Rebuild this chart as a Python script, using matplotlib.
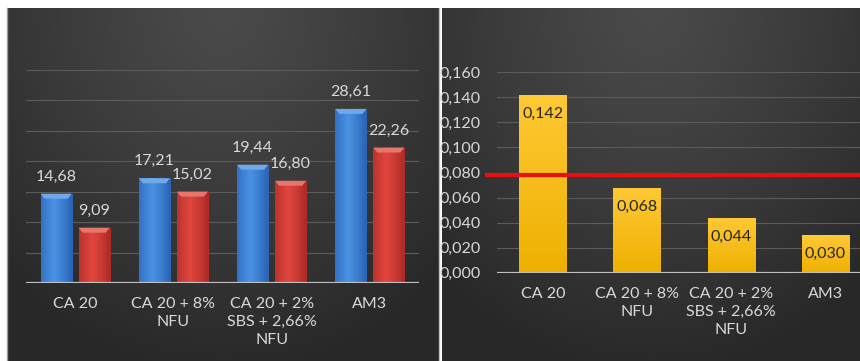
import numpy as np
import matplotlib
matplotlib.use("Agg")
import matplotlib.pyplot as plt
from matplotlib.colors import to_rgb
from matplotlib.patches import Polygon

plt.rcParams['font.family'] = ['Lato', 'DejaVu Sans']

# ---- data ----
categories = ["CA 20", "CA 20 + 8%\nNFU", "CA 20 + 2%\nSBS + 2,66%\nNFU", "AM3"]
series_blue = [14.68, 17.21, 19.44, 28.61]
series_red = [9.09, 15.02, 16.80, 22.26]
ratio = [0.142, 0.068, 0.044, 0.030]
limit_value = 0.078
left_grid = [0, 5, 10, 15, 20, 25, 30, 35]
right_ticks = [0.000, 0.020, 0.040, 0.060, 0.080, 0.100, 0.120, 0.140, 0.160]

W, H = 860, 361
fig = plt.figure(figsize=(W / 100, H / 100), dpi=100)
fig.patch.set_facecolor('white')


def rect(x0, y0, x1, y1):
    """Pixel box (top-left origin) -> figure fraction rect."""
    return [x0 / W, 1 - y1 / H, (x1 - x0) / W, (y1 - y0) / H]


def panel(box):
    ax = fig.add_axes(rect(*box))
    ax.set_axis_off()
    yy, xx = np.mgrid[0:1:240j, 0:1:240j]
    d = np.sqrt(((xx - 0.5) / 0.75) ** 2 + (yy / 1.05) ** 2)
    d = np.clip(d, 0, 1) ** 1.2
    c0 = np.array(to_rgb('#4a4a4a'))
    c1 = np.array(to_rgb('#282828'))
    img = c0 + (c1 - c0) * d[..., None]
    ax.imshow(img, extent=[0, 1, 0, 1], aspect='auto', origin='upper')
    ax.set_xlim(0, 1)
    ax.set_ylim(0, 1)
    return ax


panel((7, 8, 439, H))
panel((442, 8, W, H))
# thin frame lines at panel edges
fig.add_artist(plt.Line2D([6.5 / W, 6.5 / W], [0, 1 - 8 / H], color='#9a9a9a', lw=1))
fig.add_artist(plt.Line2D([439.5 / W, 439.5 / W], [0, 1 - 8 / H], color='#bdbdbd', lw=1))


def shade_bar(ax, patch, edge, mid, cap, cap_dx, cap_dy):
    x0, w, h = patch.get_x(), patch.get_width(), patch.get_height()
    t = np.linspace(0, 1, 64)
    prof = np.clip(1 - np.abs(t - 0.42) / 0.5, 0, 1) ** 0.8
    e, m = np.array(to_rgb(edge)), np.array(to_rgb(mid))
    row = e + (m - e) * prof[:, None]
    img = row[None, :, :]
    im = ax.imshow(img, extent=[x0, x0 + w, 0, h], aspect='auto',
                   origin='upper', zorder=3, interpolation='bilinear')
    im.set_clip_path(patch)
    top = Polygon([(x0, h), (x0 + w, h), (x0 + w - cap_dx, h - cap_dy),
                   (x0 + cap_dx, h - cap_dy)], closed=True,
                  facecolor=cap, edgecolor='none', zorder=4)
    ax.add_patch(top)


def vshade_bar(ax, patch, top_c, bot_c):
    x0, w, h = patch.get_x(), patch.get_width(), patch.get_height()
    t = np.linspace(0, 1, 64)
    a, b = np.array(to_rgb(top_c)), np.array(to_rgb(bot_c))
    col = a + (b - a) * t[:, None]
    img = col[:, None, :]
    im = ax.imshow(img, extent=[x0, x0 + w, 0, h], aspect='auto',
                   origin='upper', zorder=3, interpolation='bilinear')
    im.set_clip_path(patch)


def style_axes(ax):
    ax.set_facecolor('none')
    for s in ax.spines.values():
        s.set_visible(False)
    ax.tick_params(axis='both', length=0)
    ax.grid(axis='y', color='#5c5c5c', lw=0.8, zorder=0)
    ax.set_axisbelow(True)


# ---- left chart: paired bars ----
axl = fig.add_axes(rect(26, 70, 419, 283))
style_axes(axl)
x = np.arange(len(categories))
off, bw = 0.193, 0.316
bars_b = axl.bar(x - off, series_blue, bw, color='none', zorder=2)
bars_r = axl.bar(x + off, series_red, bw, color='none', zorder=2)
px_y = 35 / 213.0  # data units per pixel (vertical)
for p in bars_b:
    shade_bar(axl, p, '#2c66b8', '#4a92e3', '#6fa9e8', 4 / 98.25, 5 * px_y)
for p in bars_r:
    shade_bar(axl, p, '#b02c27', '#e0463e', '#e8766c', 4 / 98.25, 5 * px_y)
for xi, v in zip(x - off, series_blue):
    axl.text(xi, v + 17 * px_y, f"{v:.2f}".replace('.', ','), ha='center',
             va='center', color='#d9d9d9', fontsize=11.5, zorder=5)
for xi, v in zip(x + off, series_red):
    axl.text(xi, v + 17 * px_y, f"{v:.2f}".replace('.', ','), ha='center',
             va='center', color='#d9d9d9', fontsize=11.5, zorder=5)
axl.axhline(0, color='#c0c0c0', lw=1.6, zorder=6)
axl.set_xlim(-0.5, 3.5)
axl.set_ylim(0, 35)
axl.set_yticks(left_grid)
axl.set_yticklabels([])
axl.set_xticks(x)
axl.set_xticklabels(categories, color='#d9d9d9', fontsize=11.5, linespacing=1.38)
axl.tick_params(axis='x', pad=10)

# ---- right chart: single series with limit line ----
axr = fig.add_axes(rect(497, 72.3, W, 272.7))
style_axes(axr)
bars_y = axr.bar(x, ratio, 0.5, color='none', zorder=2)
for p in bars_y:
    vshade_bar(axr, p, '#ffc935', '#eeb000')
for xi, v in zip(x, ratio):
    axr.text(xi, v - 19 * (0.16 / 200.4), f"{v:.3f}".replace('.', ','),
             ha='center', va='center', color='#262626', fontsize=11.5, zorder=5)
axr.axhline(0, color='#c0c0c0', lw=1.6, zorder=6)
axr.axhline(limit_value, xmin=-10 / 363, xmax=1, color='#e8100c', lw=3,
            zorder=7, clip_on=False)
axr.set_xlim(-0.489, 3.372)
axr.set_ylim(0, 0.16)
axr.set_yticks(right_ticks)
axr.set_yticklabels([f"{t:.3f}".replace('.', ',') for t in right_ticks],
                    color='#d9d9d9', fontsize=11.5)
axr.tick_params(axis='y', pad=12)
axr.set_xticks(x)
axr.set_xticklabels(categories, color='#d9d9d9', fontsize=11.5, linespacing=1.38)
axr.tick_params(axis='x', pad=10)

fig.savefig('out.png', dpi=100, facecolor=fig.get_facecolor())
